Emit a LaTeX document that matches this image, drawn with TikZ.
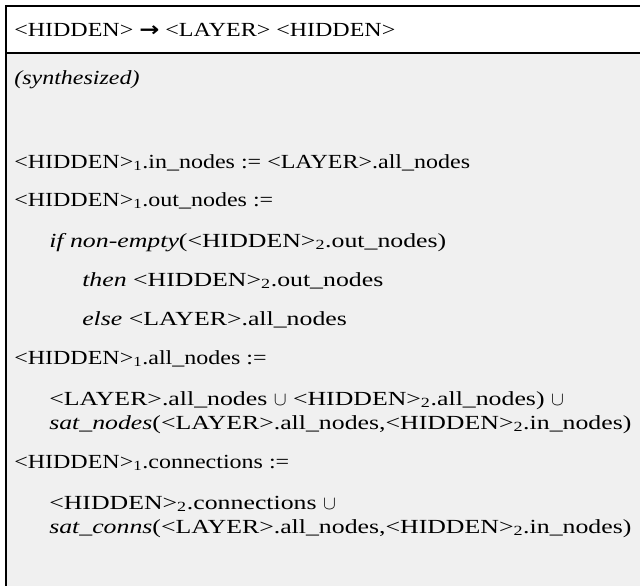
\documentclass[tikz,border=0pt]{standalone}
\usepackage{fontspec}
\setmainfont{Liberation Serif}[FakeStretch=1.2]
\newfontfamily\widefont{Liberation Serif}[FakeStretch=1.29]
\newfontfamily\arrowfont{DejaVu Sans}[FakeStretch=1.2]
\definecolor{panelgrey}{HTML}{F0F0F0}
\begin{document}
\begin{tikzpicture}[x=0.75pt,y=-0.75pt,
  txt/.style={anchor=base west,inner sep=0pt,font=\fontsize{15pt}{18pt}\selectfont},
  wtxt/.style={txt,font=\fontsize{15pt}{18pt}\widefont},
  border/.style={line width=2pt,black}]
\useasboundingbox (0,0) rectangle (640,586);
\fill[white] (0,0) rectangle (640,586);
\fill[panelgrey] (6,53) rectangle (640,586);
\draw[border] (640,6) -- (6,6) -- (6,586);
\draw[border] (6,53) -- (640,53);
\newcommand{\Hd}{<HIDDEN>}
\newcommand{\Ly}{<LAYER>}
\newcommand{\sbs}[1]{\textsubscript{#1}}
\node[txt] (head) at (14,36) {\Hd{} {\arrowfont\bfseries →} \Ly{} \Hd};
\node[txt] (syn) at (14,84) {\textit{(synthesized)}};
\node[txt] (l1) at (14,168) {\Hd\sbs{1}.in\_nodes := \Ly.all\_nodes};
\node[txt] (l2) at (14,206) {\Hd\sbs{1}.out\_nodes :=};
\node[wtxt] (l3) at (49,247) {\textit{if non-empty}(\Hd\sbs{2}.out\_nodes)};
\node[wtxt] (l4) at (82,286) {\textit{then} \Hd\sbs{2}.out\_nodes};
\node[wtxt] (l5) at (82,325) {\textit{else} \Ly.all\_nodes};
\node[txt] (l6) at (14,364) {\Hd\sbs{1}.all\_nodes :=};
\node[wtxt] (l7) at (49,405) {\Ly.all\_nodes $\cup$ \Hd\sbs{2}.all\_nodes) $\cup$};
\node[wtxt] (l8) at (49,429) {\textit{sat\_nodes}(\Ly.all\_nodes,\Hd\sbs{2}.in\_nodes)};
\node[txt] (l9) at (14,468) {\Hd\sbs{1}.connections :=};
\node[wtxt] (l10) at (49,509) {\Hd\sbs{2}.connections $\cup$};
\node[wtxt] (l11) at (49,533) {\textit{sat\_conns}(\Ly.all\_nodes,\Hd\sbs{2}.in\_nodes)};
\end{tikzpicture}
\end{document}
